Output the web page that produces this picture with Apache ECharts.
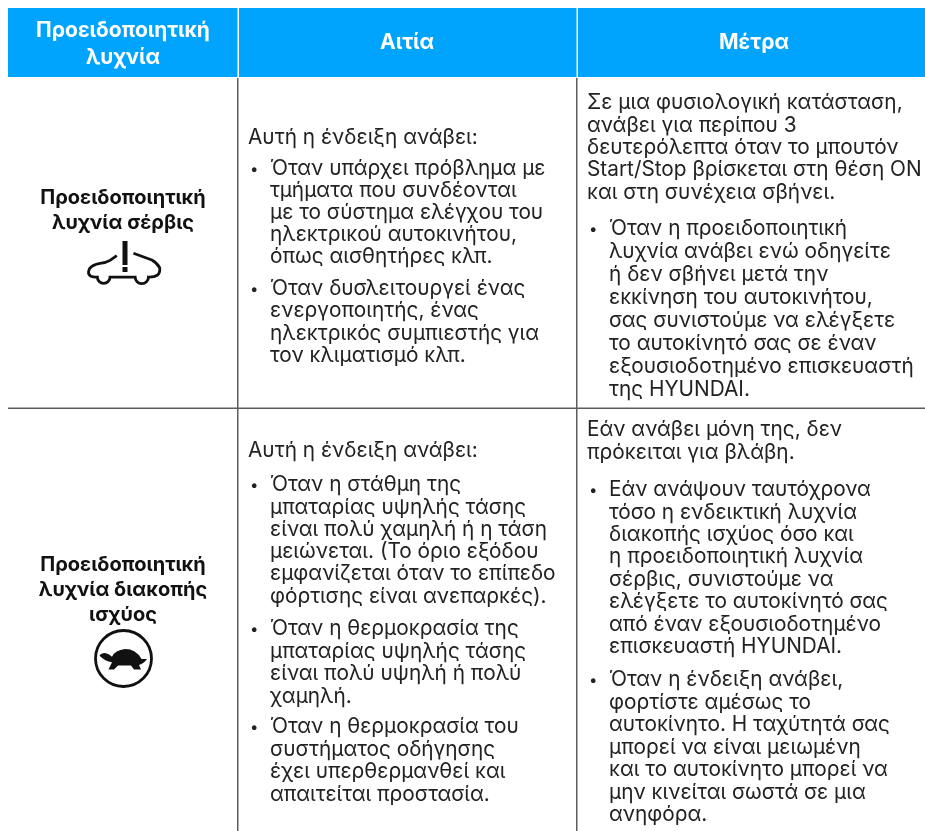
<!DOCTYPE html>
<html>
<head>
<meta charset="utf-8">
<style>html,body{margin:0;padding:0;background:#fff}</style>
<script src="https://cdn.jsdelivr.net/npm/echarts@6/dist/echarts.min.js"></script>
</head>
<body>
<div id="main" style="width:925px;height:831px"></div>
<script>
const headers = [['Προειδοποιητική', 'λυχνία'], ['Αιτία'], ['Μέτρα']]
const title1 = ['Προειδοποιητική', 'λυχνία σέρβις']
const title2 = ['Προειδοποιητική', 'λυχνία διακοπής', 'ισχύος']
const cause1Intro = ['Αυτή η ένδειξη ανάβει:']
const cause1A = ['Όταν υπάρχει πρόβλημα με', 'τμήματα που συνδέονται', 'με το σύστημα ελέγχου του', 'ηλεκτρικού αυτοκινήτου,', 'όπως αισθητήρες κλπ.']
const cause1B = ['Όταν δυσλειτουργεί ένας', 'ενεργοποιητής, ένας', 'ηλεκτρικός συμπιεστής για', 'τον κλιματισμό κλπ.']
const action1Intro = ['Σε μια φυσιολογική κατάσταση,', 'ανάβει για περίπου 3', 'δευτερόλεπτα όταν το μπουτόν', 'Start/Stop βρίσκεται στη θέση ON', 'και στη συνέχεια σβήνει.']
const action1A = ['Όταν η προειδοποιητική', 'λυχνία ανάβει ενώ οδηγείτε', 'ή δεν σβήνει μετά την', 'εκκίνηση του αυτοκινήτου,', 'σας συνιστούμε να ελέγξετε', 'το αυτοκίνητό σας σε έναν', 'εξουσιοδοτημένο επισκευαστή', 'της HYUNDAI.']
const cause2Intro = ['Αυτή η ένδειξη ανάβει:']
const cause2A = ['Όταν η στάθμη της', 'μπαταρίας υψηλής τάσης', 'είναι πολύ χαμηλή ή η τάση', 'μειώνεται. (Το όριο εξόδου', 'εμφανίζεται όταν το επίπεδο', 'φόρτισης είναι ανεπαρκές).']
const cause2B = ['Όταν η θερμοκρασία της', 'μπαταρίας υψηλής τάσης', 'είναι πολύ υψηλή ή πολύ', 'χαμηλή.']
const cause2C = ['Όταν η θερμοκρασία του', 'συστήματος οδήγησης', 'έχει υπερθερμανθεί και', 'απαιτείται προστασία.']
const action2Intro = ['Εάν ανάβει μόνη της, δεν', 'πρόκειται για βλάβη.']
const action2A = ['Εάν ανάψουν ταυτόχρονα', 'τόσο η ενδεικτική λυχνία', 'διακοπής ισχύος όσο και', 'η προειδοποιητική λυχνία', 'σέρβις, συνιστούμε να', 'ελέγξετε το αυτοκίνητό σας', 'από έναν εξουσιοδοτημένο', 'επισκευαστή HYUNDAI.']
const action2B = ['Όταν η ένδειξη ανάβει,', 'φορτίστε αμέσως το', 'αυτοκίνητο. Η ταχύτητά σας', 'μπορεί να είναι μειωμένη', 'και το αυτοκίνητο μπορεί να', 'μην κινείται σωστά σε μια', 'ανηφόρα.']

// where each block of lines sits
const font = 'Inter'
const blocks = [
  { lines: headers[0], x: 123, y: 30.5, lh: 27, kind: 'head' },
  { lines: headers[1], x: 407, y: 43, lh: 26, kind: 'head' },
  { lines: headers[2], x: 754, y: 43, lh: 26, kind: 'head' },
  { lines: title1, x: 123, y: 198, lh: 25, kind: 'title' },
  { lines: title2, x: 123, y: 564.5, lh: 25, kind: 'title' },
  { lines: cause1Intro, x: 248, y: 138, lh: 22 },
  { lines: cause1A, x: 270, y: 169, lh: 22, bullet: 250 },
  { lines: cause1B, x: 270, y: 289, lh: 22.2, bullet: 250 },
  { lines: action1Intro, x: 587, y: 103, lh: 22.4 },
  { lines: action1A, x: 609, y: 229, lh: 23, bullet: 589 },
  { lines: cause2Intro, x: 248, y: 451, lh: 22 },
  { lines: cause2A, x: 270, y: 485, lh: 22.3, bullet: 250 },
  { lines: cause2B, x: 270, y: 629, lh: 22.6, bullet: 250 },
  { lines: cause2C, x: 270, y: 727, lh: 22.6, bullet: 250 },
  { lines: action2Intro, x: 587, y: 430, lh: 22.4 },
  { lines: action2A, x: 609, y: 490, lh: 22.4, bullet: 589 },
  { lines: action2B, x: 609, y: 680, lh: 22.5, bullet: 589 }
]

const textRows = []
blocks.forEach(function (b) {
  b.lines.forEach(function (t, i) {
    textRows.push({ value: [b.x, b.y + i * b.lh], text: t, kind: b.kind || 'body' })
  })
  if (b.bullet) textRows.push({ value: [b.bullet, b.y], text: '•', kind: 'bullet' })
})

const textStyles = {
  head: { font: 'bold 21px ' + font, fill: '#ffffff', align: 'center' },
  title: { font: 'bold 20px ' + font, fill: '#111111', align: 'center' },
  body: { font: '20.8px ' + font, fill: '#222222', align: 'left' },
  bullet: { font: '15px ' + font, fill: '#222222', align: 'left' }
}

// x0, y0, x1, y1 of the header bands and table rules
const boxes = [
  [8, 8, 237.5, 77, '#00a4fc'],
  [239, 8, 576.5, 77, '#00a4fc'],
  [578, 8, 925, 77, '#00a4fc'],
  [237, 78, 238.5, 831, '#5c5c5c'],
  [576, 78, 577.5, 831, '#5c5c5c'],
  [8, 407.5, 925, 409, '#5c5c5c'],
  // exclamation mark of the service lamp
  [122.5, 241, 127.5, 265, '#111111'],
  [122.5, 267, 127.5, 272, '#111111']
]

// icon outlines: path, bounding box, filled or stroked
const icons = [
  {
    path: 'M116.7 255.7 L110 260.5 Q106 263 100 263.5 Q92 265 89.5 269 Q87 274 91 276.5 Q94 277.7 97.3 277.3 A6.35 6.35 0 0 0 110 277.3 L135 277.3 A6.35 6.35 0 0 0 148.3 277.3 Q154 277.5 157 275.5 Q160 273.5 159.5 268 Q157 263 151.7 260 L133.3 253.3',
    box: [88.5, 253.3, 71.3, 30.3], filled: false
  },
  {
    path: 'M99.5 656 Q101 653.5 105 653.5 Q109 654 112 657 Q115 651 125 650 Q136 650 141.5 659 L147 659 Q144 663 139 664.5 L141 668.5 L134 668.5 L131 665 L118 665 L114 668.5 L108.5 668.5 L112 662 Q105 661 99.5 656 Z',
    box: [99.5, 649, 47.5, 20.5], filled: true
  }
]

const myChart = echarts.init(document.getElementById('main'), null, { renderer: 'canvas' })

myChart.setOption({
  backgroundColor: '#ffffff',
  animation: false,
  grid: { left: 0, right: 0, top: 0, bottom: 0 },
  xAxis: { type: 'value', min: 0, max: 925, show: false },
  yAxis: { type: 'value', min: 0, max: 831, inverse: true, show: false },
  series: [
    {
      type: 'custom',
      silent: true,
      clip: false,
      data: boxes,
      renderItem: function (params, api) {
        const a = api.coord([api.value(0), api.value(1)])
        const b = api.coord([api.value(2), api.value(3)])
        return { type: 'rect', shape: { x: a[0], y: a[1], width: b[0] - a[0], height: b[1] - a[1] }, style: { fill: boxes[params.dataIndex][4] } }
      }
    },
    {
      type: 'custom',
      silent: true,
      clip: false,
      z: 5,
      data: textRows,
      renderItem: function (params, api) {
        const row = textRows[params.dataIndex]
        const p = api.coord([api.value(0), api.value(1)])
        const s = textStyles[row.kind]
        return {
          type: 'text',
          x: p[0],
          y: p[1],
          style: { text: row.text, font: s.font, fill: s.fill, align: s.align, verticalAlign: 'middle' }
        }
      }
    },
    {
      type: 'custom',
      silent: true,
      clip: false,
      data: icons.map(function (ic) { return ic.box }),
      renderItem: function (params, api) {
        const ic = icons[params.dataIndex]
        const p = api.coord([api.value(0), api.value(1)])
        return {
          type: 'path',
          shape: { pathData: ic.path, x: p[0], y: p[1], width: api.value(2), height: api.value(3), layout: 'cover' },
          style: ic.filled ? { fill: '#111111' } : { fill: 'none', stroke: '#111111', lineWidth: 2.8 }
        }
      }
    }
  ],
  graphic: [
    { type: 'circle', silent: true, shape: { cx: 123.5, cy: 658.5, r: 28 }, style: { fill: 'none', stroke: '#111111', lineWidth: 2.8 } }
  ]
})
</script>
</body>
</html>
